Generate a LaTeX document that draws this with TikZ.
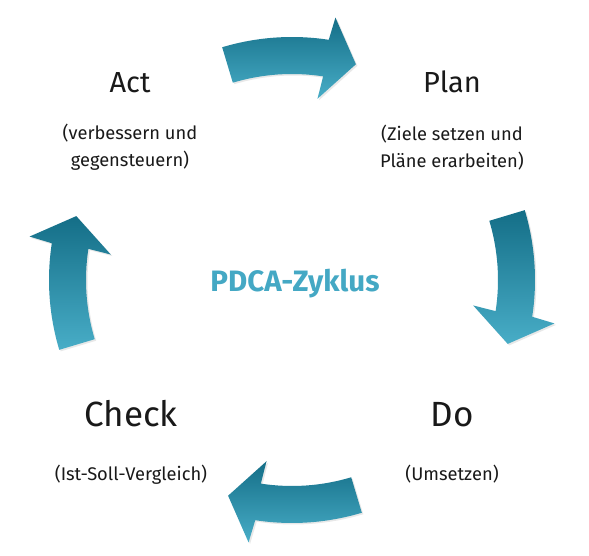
\documentclass[tikz,border=0pt]{standalone}
\usepackage{fontspec}
\setmainfont{Fira Sans}
\definecolor{pdcadark}{RGB}{20,110,135}
\definecolor{pdcalight}{RGB}{72,173,199}
\definecolor{pdcatext}{RGB}{68,168,196}
\definecolor{pdcaink}{RGB}{25,25,25}
\usetikzlibrary{shadows}

\begin{document}
\begin{tikzpicture}[x=1pt, y=1pt,
  phase/.style={font=\fontsize{29}{29}\selectfont, text=pdcaink, anchor=base, inner sep=0pt},
  phasebig/.style={phase, font=\fontsize{35}{35}\selectfont},
  note/.style={font=\fontsize{18.3}{27}\selectfont, text=pdcaink, align=center, inner sep=0pt},
  cyclearrow/.style={top color=pdcadark, bottom color=pdcalight,
    drop shadow={opacity=0.18, shadow xshift=1.5pt, shadow yshift=-1.5pt}}]
  \fill[white] (0,0) rectangle (589,556);
  \useasboundingbox (0,0) rectangle (589,556);
  \coordinate (m) at (292,276);

  % the four curved arrows of the cycle
  \foreach \r in {0,-90,-180,-270}{
    \pgfmathsetmacro\ta{106.7+\r}
    \pgfmathsetmacro\tb{81.3+\r}
    \pgfmathsetmacro\tc{73.5+\r}
    \pgfmathsetmacro\tba{80.6+\r}
    \pgfmathsetmacro\tbi{82.0+\r}
    \path[cyclearrow, shift={(m)}]
      (\ta:243pt) arc[start angle=\ta, end angle=\tb, radius=243pt]
      -- (\tba:266pt) -- (\tc:225pt) -- (\tbi:183pt) -- (\tb:206pt)
      arc[start angle=\tb, end angle=\ta, radius=206pt] -- cycle;
  }

  \node[phase] (act) at (130,463) {Act};
  \node[phase] (plan) at (452,463) {Plan};
  \node[phasebig] (check) at (131,129) {Check};
  \node[phasebig] (do) at (452,129) {Do};

  \node[note] (act-txt) at (130,409) {(verbessern und\\gegensteuern)};
  \node[note] (plan-txt) at (452,408) {(Ziele setzen und\\Pläne erarbeiten)};
  \node[note, anchor=base] (check-txt) at (131,75) {(Ist-Soll-Vergleich)};
  \node[note, anchor=base] (do-txt) at (452,75) {(Umsetzen)};

  \node[font=\bfseries\fontsize{29.5}{29.5}\selectfont, text=pdcatext, anchor=base] (zyklus) at (295,264) {PDCA-Zyklus};
\end{tikzpicture}
\end{document}
